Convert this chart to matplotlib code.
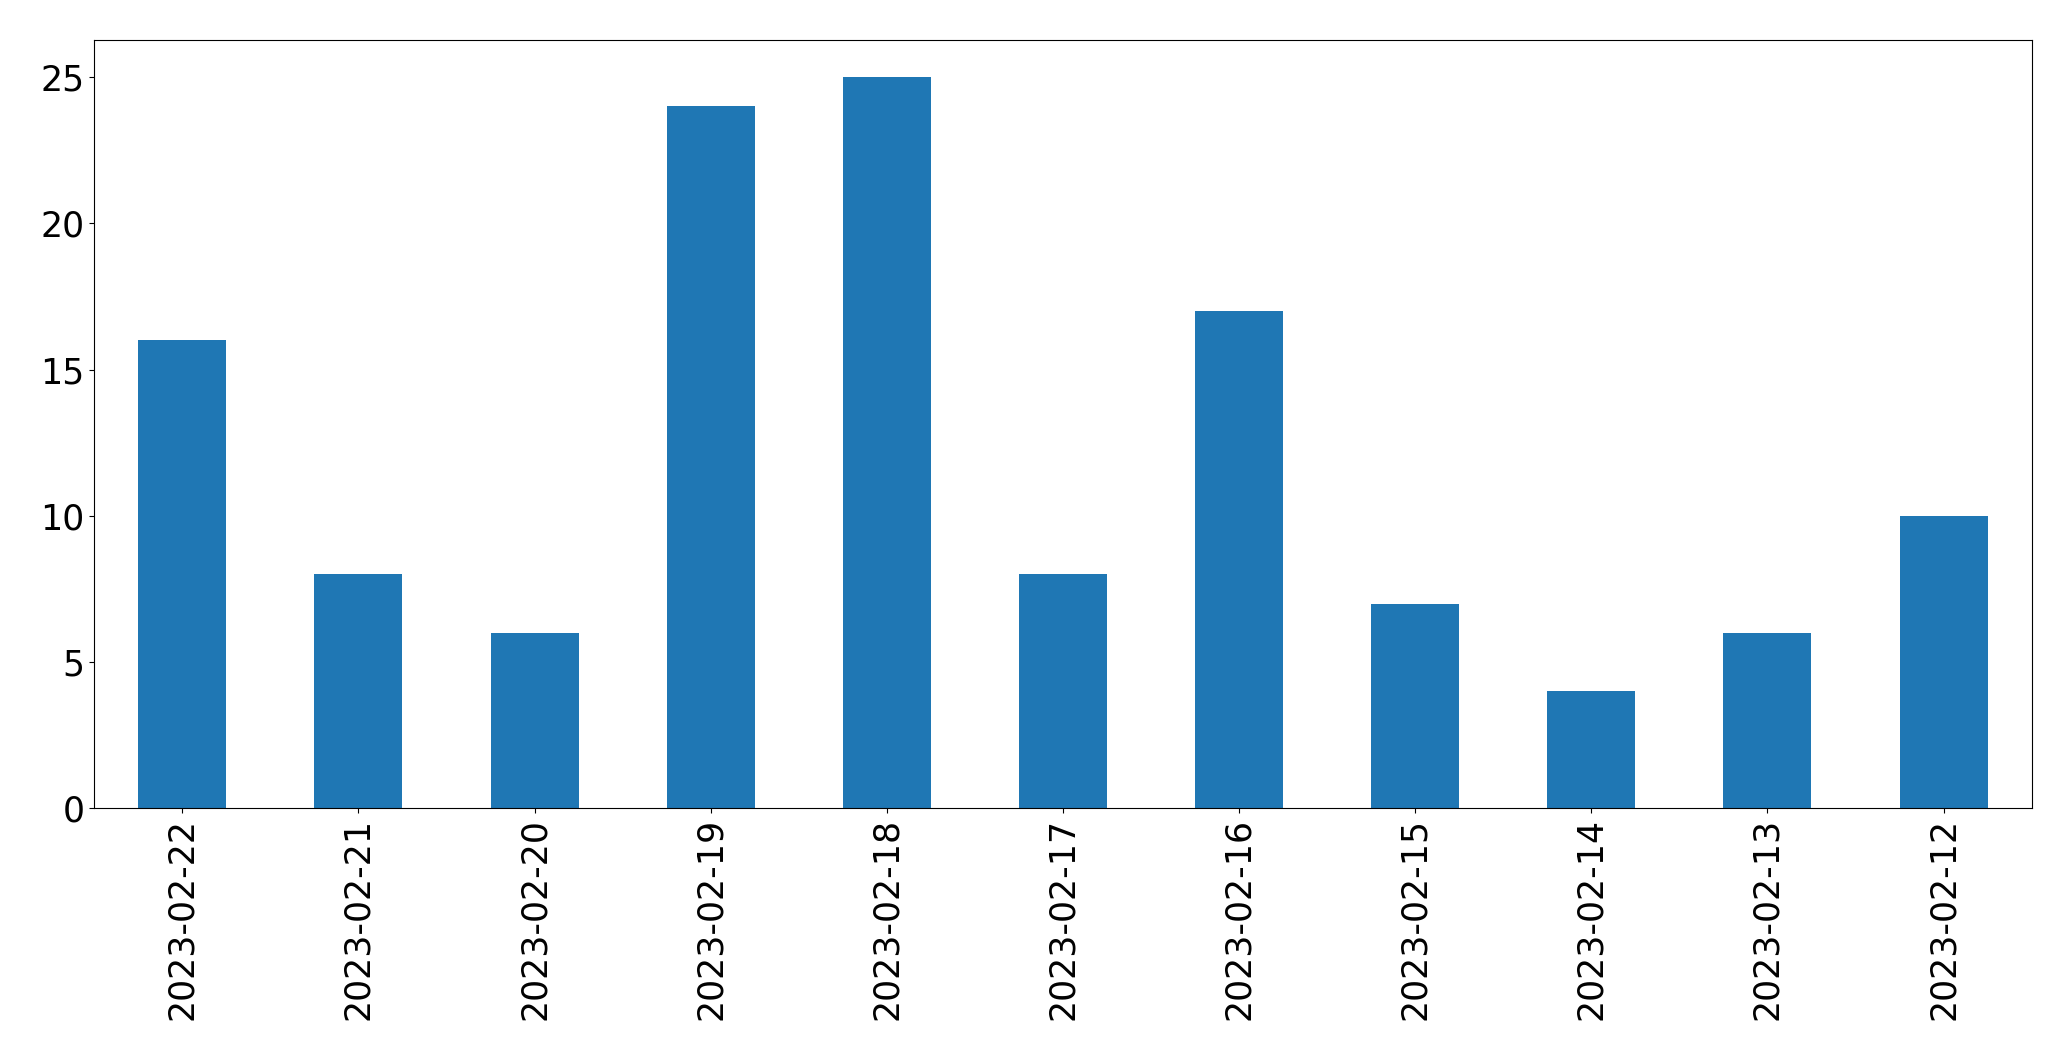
import pandas as pd
import matplotlib.pyplot as plt

dates = ['2023-02-22', '2023-02-21', '2023-02-20', '2023-02-19', '2023-02-18',
         '2023-02-17', '2023-02-16', '2023-02-15', '2023-02-14', '2023-02-13',
         '2023-02-12']
counts = [16, 8, 6, 24, 25, 8, 17, 7, 4, 6, 10]

s = pd.Series(counts, index=dates)

fig, ax = plt.subplots(figsize=(20.71, 10.61), dpi=100)
s.plot(ax=ax, kind='bar', color='#1f77b4')
ax.tick_params(axis='both', labelsize=25)
fig.subplots_adjust(left=0.0455, right=0.981, top=0.962, bottom=0.238)

fig.savefig('out.png', dpi=100)
